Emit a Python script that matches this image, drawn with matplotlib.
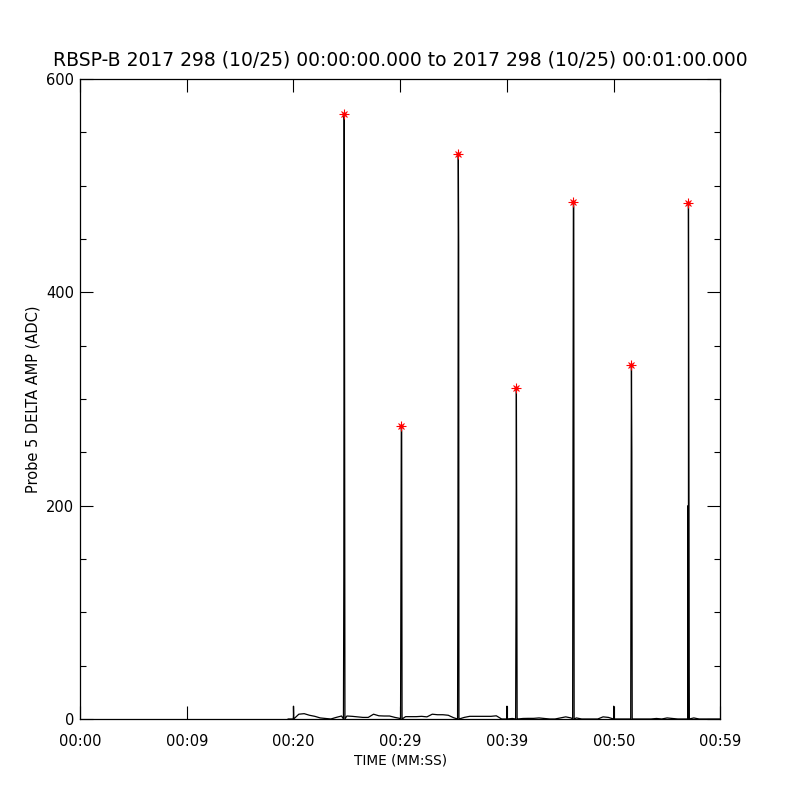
import numpy as np
import matplotlib
matplotlib.use("Agg")
import matplotlib.pyplot as plt
from matplotlib.ticker import MultipleLocator

# ---- data (seconds, ADC) ----
title = "RBSP-B 2017 298 (10/25) 00:00:00.000 to 2017 298 (10/25) 00:01:00.000"
xtick_vals = [0, 10, 20, 30, 40, 50, 60]
xtick_labels = ["00:00", "00:09", "00:20", "00:29", "00:39", "00:50", "00:59"]

# baseline noise, 0.5 s samples starting at 19.5 s
base_t0 = 19.5
base_dt = 0.5
base_vals = [0, 3, 4.5, 5, 3.5, 2.5, 1, 0.5, 0, 1.5, 2.8, 2.8, 2.5, 2, 1.5, 1.5,
             4.5, 3, 2.8, 2.8, 1.5, 0.5, 2.2, 2.2, 2.2, 2.5, 2, 4.5, 4, 4, 3.5,
             1.2, 1.2, 1.5, 2.5, 2.5, 2.5, 2.5, 2.5, 3, 0, 0, 0.5, 0, 0.5, 0.6,
             0.6, 1, 0.5, 0, 0, 1, 2, 1, 1, 0, 0, 0, 0, 2, 1.5, 2, 0, 0, 0,
             0, 0, 0, 0, 0.5, 0, 1, 0.5, 0, 0, 0, 1, 0, 0, 0, 0, 0]

# small isolated blips
blip_t = [20.0, 40.0, 50.0]
blip_v = [12, 12, 12]

# big pulses: time, peak, rising-edge value, falling-edge value
pulse_t = [24.75, 30.10, 35.44, 40.88, 46.22, 51.66, 57.00]
pulse_peak = [567, 275, 530, 310, 485, 332, 484]
pulse_rise = [135, 140, 178, 110, 265, 195, 200]
pulse_fall = [345, 270, 443, 170, 480, 250, 260]

# ---- build series ----
n = len(base_vals)
bt = base_t0 + base_dt * np.arange(n)
pts = list(zip(bt, base_vals))
for t, v in zip(blip_t, blip_v):
    pts += [(t - 0.02, 0.0), (t, v), (t + 0.02, 0.0)]
for t, pk, r, f in zip(pulse_t, pulse_peak, pulse_rise, pulse_fall):
    pts += [(t - 0.07, 0.0), (t - 0.035, r), (t, pk), (t + 0.035, f), (t + 0.07, 0.0)]
clean = []
for t, v in pts:
    near = any(abs(t - pt) < 0.1 for pt in pulse_t)
    is_pulse = any(abs(t - pt) <= 0.071 for pt in pulse_t)
    if near and not is_pulse:
        continue
    clean.append((t, v))
clean.sort(key=lambda p: p[0])
ts = np.array([p[0] for p in clean])
vs = np.array([p[1] for p in clean])

fig = plt.figure(figsize=(8, 8), dpi=100)
ax = fig.add_axes([0.1, 0.10125, 0.8006, 0.8])
ax.plot(ts, vs, color="black", lw=0.9)
ax.plot(pulse_t, pulse_peak, ls="none", marker="+", ms=7, mew=0.8, color="red")
ax.plot(pulse_t, pulse_peak, ls="none", marker="x", ms=5, mew=0.8, color="red")
ax.plot(pulse_t, pulse_peak, ls="none", marker="o", ms=2.2, color="red")

ax.set_xlim(0, 60)
ax.set_ylim(0, 600)
ax.set_xticks(xtick_vals)
ax.set_xticklabels(xtick_labels)
ax.set_yticks([0, 200, 400, 600])
ax.yaxis.set_minor_locator(MultipleLocator(50))
ax.tick_params(which="both", direction="in", top=True, right=True, width=0.8,
               labelsize=10.5)
ax.tick_params(which="major", length=9.4)
ax.tick_params(axis="x", which="major", pad=11)
ax.tick_params(axis="y", which="major", pad=4)
ax.tick_params(which="minor", length=4.3)
for s in ax.spines.values():
    s.set_linewidth(0.9)
ax.set_xlabel("TIME (MM:SS)", fontsize=9.8, labelpad=3)
ax.set_ylabel("Probe 5 DELTA AMP (ADC)", fontsize=10.5, labelpad=4)
ax.set_title(title, fontsize=13.5, pad=10)

fig.savefig("out.png", dpi=100)
